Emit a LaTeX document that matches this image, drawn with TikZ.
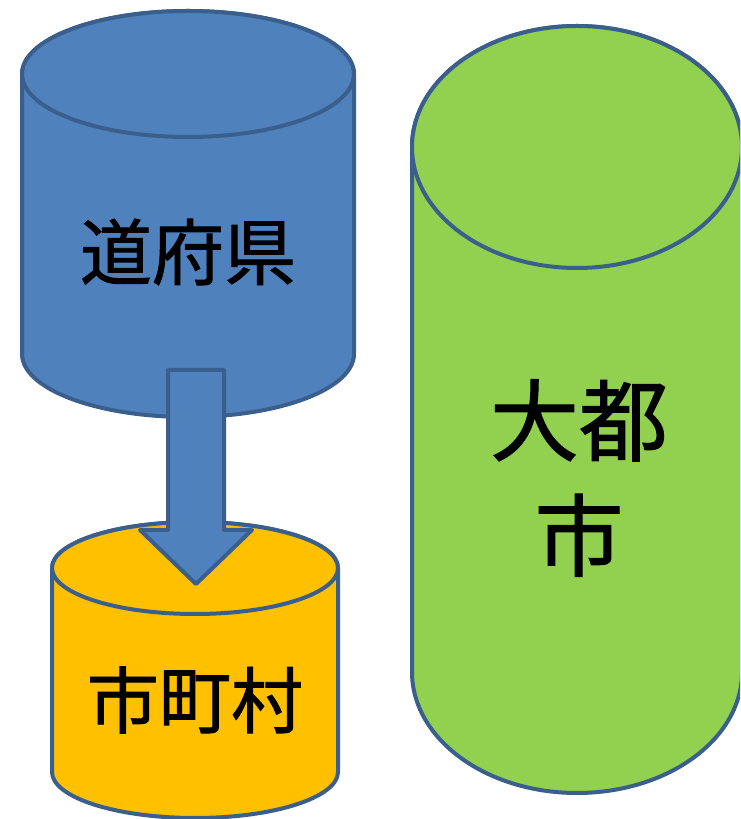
\documentclass[tikz,border=0pt]{standalone}
\usepackage{fontspec}
\newfontfamily\jpfont[FakeBold=1.2]{Noto Sans CJK JP}
\definecolor{cylblue}{HTML}{4F81BD}
\definecolor{cyledge}{HTML}{3A5F8C}
\definecolor{cylgreen}{HTML}{92D050}
\definecolor{cylorange}{HTML}{FFC000}
\newcommand\mycylinder[6]{% fill, cx, rx, Ytop, Ybot, ry
  \draw[cylline, fill=#1] (#2-#3,#4) -- (#2-#3,#5)
    arc[start angle=180, end angle=360, x radius=#3, y radius=#6]
    -- (#2+#3,#4)
    arc[start angle=0, end angle=180, x radius=#3, y radius=#6] -- cycle;
  \draw[cylline, fill=#1] (#2,#4) ellipse[x radius=#3, y radius=#6];
}
\begin{document}
\begin{tikzpicture}[x=1pt, y=1pt,
  cylline/.style={draw=cyledge, line width=4pt, line join=round},
  label72/.style={font=\jpfont\fontsize{72}{86}\selectfont, text=black, inner sep=0pt},
  label88/.style={font=\jpfont\fontsize{89}{115}\selectfont, text=black, inner sep=0pt, align=center}]
\useasboundingbox (0,0) rectangle (740,819);
\clip (0,0) rectangle (740,819);
% blue cylinder
\mycylinder{cylblue}{188}{166}{745}{465}{63}
% orange cylinder
\mycylinder{cylorange}{195}{143}{251}{47}{46}
% green cylinder
\mycylinder{cylgreen}{577}{165}{672}{147}{121}
% arrow
\coordinate (shaftL) at (168,449);
\coordinate (shaftR) at (224,449);
\coordinate (tip) at (196,235);
\draw[cylline, fill=cylblue] (shaftL) -- (168,289) -- (140,289) -- (tip)
  -- (252,289) -- (224,289) -- (shaftR) -- cycle;
% labels
\node[label72] (pref) at (188,567) {道府県};
\node[label72] (muni) at (195,119) {市町村};
\node[label88] (city) at (579,341) {大都\\市};
\end{tikzpicture}
\end{document}
